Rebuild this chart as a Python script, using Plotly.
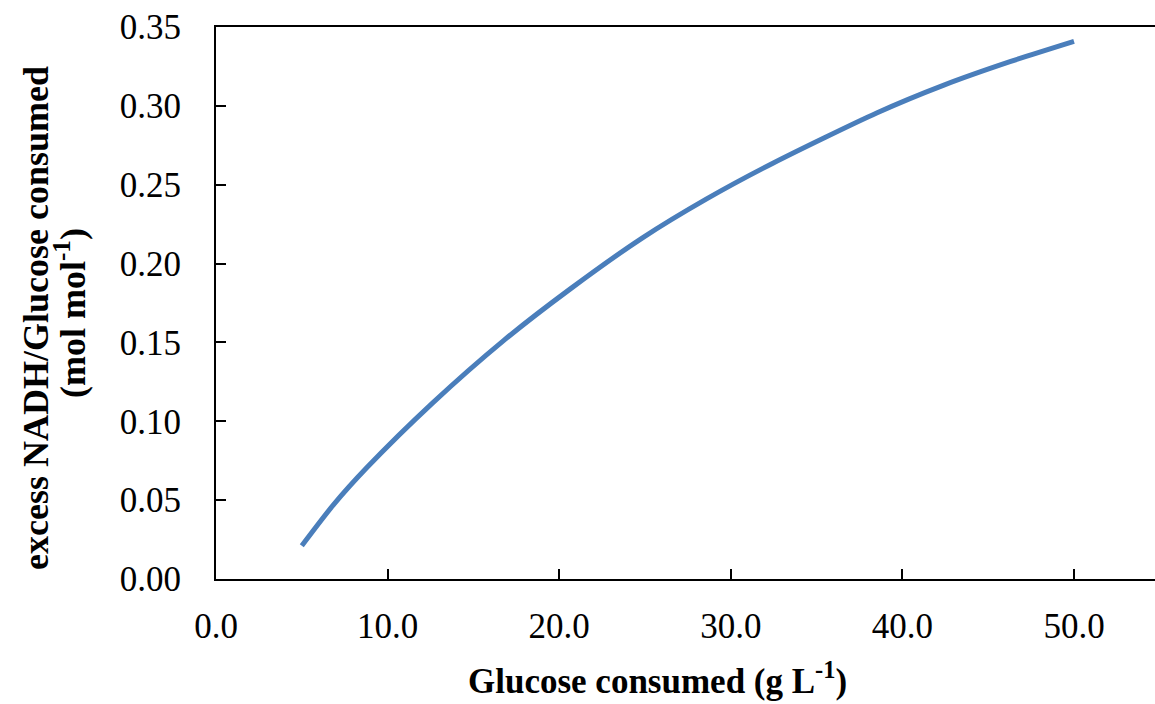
import plotly.graph_objects as go

glucose = [5.0, 6.84, 8.78, 12.66, 16.74, 20.63, 24.81, 28.59, 32.48, 38.5, 42.38, 46.27, 50.0]
excess_nadh = [0.0211, 0.0470, 0.0705, 0.1120, 0.1510, 0.1838, 0.2160, 0.2410, 0.2638, 0.2955, 0.3130, 0.3280, 0.3409]

x_ticks = [0, 10, 20, 30, 40, 50]
x_ticklabels = ["0.0", "10.0", "20.0", "30.0", "40.0", "50.0"]
y_ticks = [0, 0.05, 0.10, 0.15, 0.20, 0.25, 0.30, 0.35]
y_ticklabels = ["0.00", "0.05", "0.10", "0.15", "0.20", "0.25", "0.30", "0.35"]

FONT = "Liberation Serif, Times New Roman, serif"
TICK_SIZE = 35

fig = go.Figure()
fig.add_trace(go.Scatter(
    x=glucose, y=excess_nadh, mode="lines",
    line=dict(color="#4A7EBB", width=5, shape="spline", smoothing=0.7),
    showlegend=False,
))

fig.update_layout(
    width=1155, height=704,
    margin=dict(l=216, r=0, t=27, b=125),
    paper_bgcolor="white", plot_bgcolor="white",
    font=dict(family=FONT, color="black", size=TICK_SIZE),
)
fig.update_xaxes(
    range=[0, 54.72], tickvals=x_ticks, ticktext=x_ticklabels,
    showline=True, linecolor="black", linewidth=2, mirror=True,
    ticks="inside", ticklen=10, tickwidth=2, tickcolor="black",
    showgrid=False, zeroline=False,
    tickfont=dict(family=FONT, size=TICK_SIZE), ticklabelstandoff=15,
)
fig.update_yaxes(
    range=[0, 0.35], tickvals=y_ticks, ticktext=y_ticklabels,
    showline=True, linecolor="black", linewidth=2, mirror=False,
    ticks="inside", ticklen=10, tickwidth=2, tickcolor="black",
    showgrid=False, zeroline=False,
    tickfont=dict(family=FONT, size=TICK_SIZE), ticklabelstandoff=26,
)

W = 939.0
H = 552.0
fig.add_annotation(
    text="<b>Glucose consumed (g L<sup>-1</sup>)</b>",
    xref="paper", yref="paper", x=(657 - 216) / W, y=-(703 - 579) / H,
    xanchor="center", yanchor="bottom", showarrow=False,
    font=dict(family=FONT, size=35, color="black"),
)
fig.add_annotation(
    text="<b>excess NADH/Glucose consumed</b>",
    xref="paper", yref="paper", x=-(216 - 36) / W, y=(579 - 318) / H,
    xanchor="center", yanchor="middle", showarrow=False, textangle=-90,
    font=dict(family=FONT, size=36, color="black"),
)
fig.add_annotation(
    text="<b>(mol mol<sup>-1</sup>)</b>",
    xref="paper", yref="paper", x=-(216 - 70) / W, y=(579 - 313) / H,
    xanchor="center", yanchor="middle", showarrow=False, textangle=-90,
    font=dict(family=FONT, size=36, color="black"),
)

fig.write_html("out.html")
